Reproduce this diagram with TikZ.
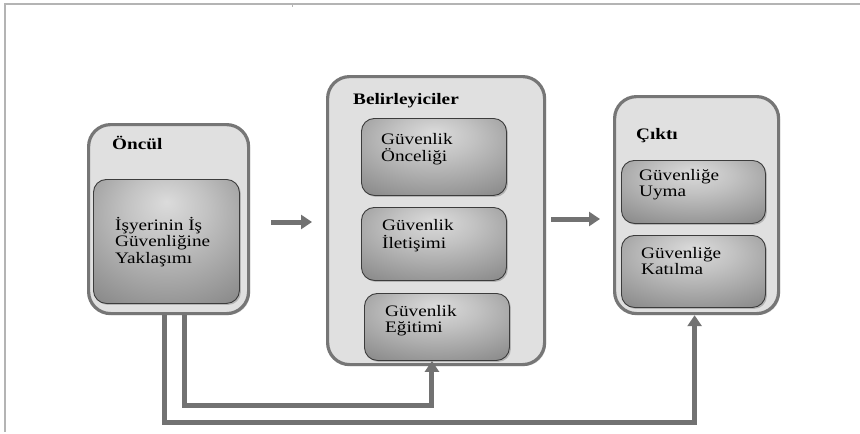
\documentclass[tikz,border=0pt]{standalone}
\usepackage{fontspec}
\setmainfont{Liberation Serif}
\usetikzlibrary{arrows.meta,shadows}
\definecolor{linecol}{HTML}{727272}
\definecolor{outerborder}{HTML}{767676}
\definecolor{outerfill}{HTML}{E0E0E0}
\definecolor{innerborder}{HTML}{3C3C3C}
\definecolor{framecol}{HTML}{B4B4B4}
\pgfdeclareradialshading{boxshade}{\pgfpoint{0bp}{16bp}}{color(0bp)=(black!14); color(14bp)=(black!24); color(40bp)=(black!46); color(62bp)=(black!58); color(80bp)=(black!64)}
\newcommand{\stxt}[1]{\scalebox{1.2}[1]{\begin{tabular}[t]{@{}l@{}}#1\end{tabular}}}
\tikzset{
  outerbox/.style={draw=outerborder, line width=3.2pt, fill=outerfill, rounded corners=22pt, anchor=north west, inner sep=0pt,
    drop shadow={opacity=0.35, shadow xshift=1.5pt, shadow yshift=-1.5pt}},
  innerbox/.style={draw=innerborder, line width=0.9pt, shading=boxshade, rounded corners=13pt, anchor=north west, inner sep=0pt,
    drop shadow={opacity=0.45, shadow xshift=1.5pt, shadow yshift=-1.5pt}},
  titletext/.style={anchor=base west, inner sep=0pt, font=\fontsize{16}{17}\selectfont\bfseries},
  boxtext/.style={anchor=base west, inner sep=0pt, font=\fontsize{16}{16.5}\selectfont},
  bigarrow/.style={draw=linecol, line width=5pt, -{Triangle[length=11pt,width=14pt]}},
  conn/.style={draw=linecol, line width=5pt, line join=miter, -{Triangle[length=11pt,width=14pt]}},
}
\begin{document}
\begin{tikzpicture}[x=1pt,y=-1pt]
\useasboundingbox (0,0) rectangle (860,434);
% frame
\draw[framecol, line width=1.5pt] (5,432) -- (5,4) -- (860,4);
\draw[framecol, line width=0.8pt] (292,4) -- (292,7);
% outer boxes
\node[outerbox, minimum width=160pt, minimum height=189pt] (oncul) at (87,123) {};
\node[outerbox, minimum width=217pt, minimum height=288pt] (belir) at (326,75) {};
\node[outerbox, minimum width=164pt, minimum height=217pt] (cikti) at (613,95) {};
% inner boxes
\node[innerbox, minimum width=146pt, minimum height=124pt] (yaklasim) at (93,179) {};
\node[innerbox, minimum width=145pt, minimum height=77pt] (oncelik) at (361,118) {};
\node[innerbox, minimum width=145pt, minimum height=73pt] (iletisim) at (361,207) {};
\node[innerbox, minimum width=145pt, minimum height=67pt] (egitim) at (364,293) {};
\node[innerbox, minimum width=144pt, minimum height=63pt] (uyma) at (621,160) {};
\node[innerbox, minimum width=144pt, minimum height=72pt] (katilma) at (621,235) {};
% titles
\node[titletext] (t1) at (112,149) {\scalebox{1.2}[1]{Öncül}};
\node[titletext] (t2) at (353,104) {\scalebox{1.2}[1]{Belirleyiciler}};
\node[titletext] (t3) at (636,139) {\scalebox{1.2}[1]{Çıktı}};
% texts
\node[boxtext] (x1) at (115,230) {\stxt{İşyerinin İş\\Güvenliğine\\Yaklaşımı}};
\node[boxtext] (x2) at (381,144) {\stxt{Güvenlik\\Önceliği}};
\node[boxtext] (x3) at (382,230) {\stxt{Güvenlik\\İletişimi}};
\node[boxtext] (x4) at (385,316) {\stxt{Güvenlik\\Eğitimi}};
\node[boxtext] (x5) at (639,180) {\stxt{Güvenliğe\\Uyma}};
\node[boxtext] (x6) at (641,258) {\stxt{Güvenliğe\\Katılma}};
% arrows
\coordinate (a1) at (0,222);
\coordinate (a2) at (0,219);
\coordinate (low1) at (0,422);
\coordinate (low2) at (0,405);
\draw[bigarrow, shorten <=21pt, shorten >=14pt] (oncul.east |- a1) -- (belir.west |- a1);
\draw[bigarrow, shorten <=5pt, shorten >=13pt] (belir.east |- a2) -- (cikti.west |- a2);
\draw[conn] ([xshift=-4pt]oncul.south) -- ([xshift=-4pt]oncul.south |- low1) -| ([xshift=-2pt]cikti.south);
\draw[conn] ([xshift=16pt]oncul.south) -- ([xshift=16pt]oncul.south |- low2) -| ([xshift=-5pt]egitim.south);
\end{tikzpicture}
\end{document}
